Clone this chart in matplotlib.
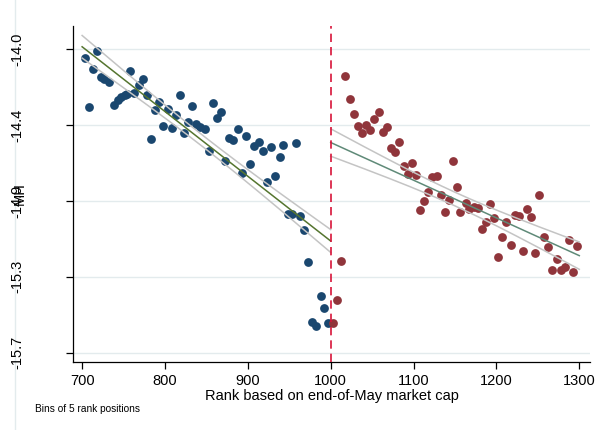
import matplotlib
matplotlib.use("Agg")
import matplotlib.pyplot as plt
import numpy as np
from matplotlib.lines import Line2D

plt.rcParams["font.family"] = ["Liberation Sans", "DejaVu Sans"]

# Binned means left of the cutoff (ranks 700-999)
left_x = [703.6, 708.1, 712.9, 718.5, 723.0, 727.0, 733.0, 737.9, 743.2, 747.2,
          751.2, 754.1, 758.1, 763.0, 768.1, 773.4, 778.3, 782.6, 788.3, 793.1,
          798.0, 803.2, 808.0, 812.7, 818.5, 823.0, 827.9, 833.1, 837.9, 842.7,
          847.9, 853.3, 858.1, 862.9, 868.1, 872.6, 877.8, 882.3, 887.9, 893.2,
          898.0, 903.2, 907.7, 912.9, 918.1, 922.9, 927.8, 932.6, 938.3, 942.8,
          948.3, 953.4, 957.6, 962.8, 967.9, 973.0, 977.8, 982.7, 987.9, 992.4,
          997.2]
left_y = [-14.050, -14.323, -14.112, -14.010, -14.154, -14.166, -14.182, -14.312,
          -14.284, -14.269, -14.256, -14.251, -14.122, -14.243, -14.200, -14.168,
          -14.258, -14.504, -14.343, -14.298, -14.428, -14.335, -14.441, -14.370,
          -14.258, -14.469, -14.409, -14.318, -14.419, -14.437, -14.445, -14.570,
          -14.304, -14.387, -14.354, -14.628, -14.499, -14.510, -14.447, -14.692,
          -14.484, -14.643, -14.544, -14.520, -14.572, -14.746, -14.549, -14.712,
          -14.604, -14.538, -14.925, -14.925, -14.527, -14.932, -15.015, -15.194,
          -15.529, -15.553, -15.381, -15.452, -15.536]

# Binned means right of the cutoff (ranks 1000-1299)
right_x = [1002.8, 1008.1, 1012.9, 1017.3, 1023.0, 1027.8, 1032.6, 1037.9, 1042.7,
           1047.5, 1052.8, 1057.7, 1062.9, 1067.7, 1072.6, 1077.8, 1082.6, 1087.9,
           1092.8, 1097.6, 1103.2, 1107.6, 1112.8, 1117.7, 1122.5, 1127.8, 1133.0,
           1137.5, 1142.4, 1147.6, 1152.4, 1156.4, 1162.9, 1167.3, 1172.6, 1177.4,
           1182.3, 1187.5, 1192.3, 1197.2, 1202.4, 1207.2, 1212.0, 1217.4, 1222.6,
           1227.4, 1232.2, 1237.1, 1241.9, 1247.1, 1251.9, 1257.2, 1262.5, 1267.3,
           1272.5, 1277.4, 1282.2, 1287.5, 1292.7, 1297.2]
right_y = [-15.536, -15.407, -15.185, -14.151, -14.280, -14.364, -14.428, -14.467,
           -14.426, -14.452, -14.391, -14.351, -14.462, -14.437, -14.555, -14.576,
           -14.521, -14.652, -14.701, -14.636, -14.703, -14.901, -14.850, -14.800,
           -14.714, -14.712, -14.818, -14.914, -14.845, -14.624, -14.772, -14.910,
           -14.863, -14.897, -14.886, -14.891, -15.009, -14.970, -14.865, -14.946,
           -15.163, -15.050, -14.970, -15.099, -14.927, -14.936, -15.131, -14.894,
           -14.942, -15.140, -14.818, -15.054, -15.110, -15.239, -15.174, -15.235,
           -15.219, -15.067, -15.247, -15.101]

y_ticks = [-14.0, -14.425, -14.85, -15.275, -15.7]
y_ticklabels = ["-14.0", "-14.4", "-14.9", "-15.3", "-15.7"]
x_ticks = [700, 800, 900, 1000, 1100, 1200, 1300]

NAVY = "#1a476f"
MAROON = "#90353b"
GRID = "#e3ebed"
CI_GRAY = "#c4c4c4"


def lfitci(x, y, lo, hi, t=1.25):
    x = np.asarray(x)
    y = np.asarray(y)
    b, a = np.polyfit(x, y, 1)
    resid = y - (a + b * x)
    n = len(x)
    s = np.sqrt(np.sum(resid ** 2) / (n - 2))
    xs = np.linspace(lo, hi, 200)
    fit = a + b * xs
    se = s * np.sqrt(1.0 / n + (xs - x.mean()) ** 2 / np.sum((x - x.mean()) ** 2))
    return xs, fit, fit - t * se, fit + t * se


fig = plt.figure(figsize=(5.95, 4.3), dpi=100)
ax = fig.add_axes([0.1227, 0.158, 0.869, 0.7815])

# faint frame line left of the tick labels
fig.add_artist(Line2D([15 / 595, 15 / 595], [0.0, 1.0], color=GRID, lw=1.0,
                      transform=fig.transFigure, zorder=0))

for yt in y_ticks:
    ax.axhline(yt, color=GRID, lw=1.0, zorder=0)

ax.scatter(left_x, left_y, s=40, color=NAVY, linewidths=0, zorder=2)
ax.scatter(right_x, right_y, s=40, color=MAROON, linewidths=0, zorder=2)

for xs_, ys_, lo, hi, col in [(left_x, left_y, 700, 1000, "#55752f"),
                              (right_x, right_y, 1000, 1300, "#5f8a78")]:
    xs, fit, lower, upper = lfitci(xs_, ys_, lo, hi)
    ax.plot(xs, lower, color=CI_GRAY, lw=1.1, zorder=3)
    ax.plot(xs, upper, color=CI_GRAY, lw=1.1, zorder=3)
    ax.plot(xs, fit, color=col, lw=1.1, zorder=4)

ax.axvline(1000, color="#d8143a", lw=1.2, ls=(0, (5, 3)), zorder=5)

ax.set_xlim(689, 1313)
ax.set_ylim(-15.753, -13.87)
ax.set_xticks(x_ticks)
ax.set_yticks(y_ticks)
ax.set_yticklabels(y_ticklabels, rotation=90, va="center")
ax.tick_params(axis="both", labelsize=10.5, length=5, width=0.9, direction="out")
ax.tick_params(axis="y", pad=30)

for side in ("top", "right"):
    ax.spines[side].set_visible(False)
for side in ("left", "bottom"):
    ax.spines[side].set_linewidth(0.9)

ax.set_xlabel("Rank based on end-of-May market cap", fontsize=10.5, labelpad=1)
# the y title sits on top of the middle tick label, as in the original
ax.set_ylabel("MH", fontsize=10.5, va="center")
ax.yaxis.set_label_coords(-0.103, 0.5)

fig.text(0.059, 0.042, "Bins of 5 rank positions", fontsize=7.3)

fig.savefig("out.png", dpi=100)
